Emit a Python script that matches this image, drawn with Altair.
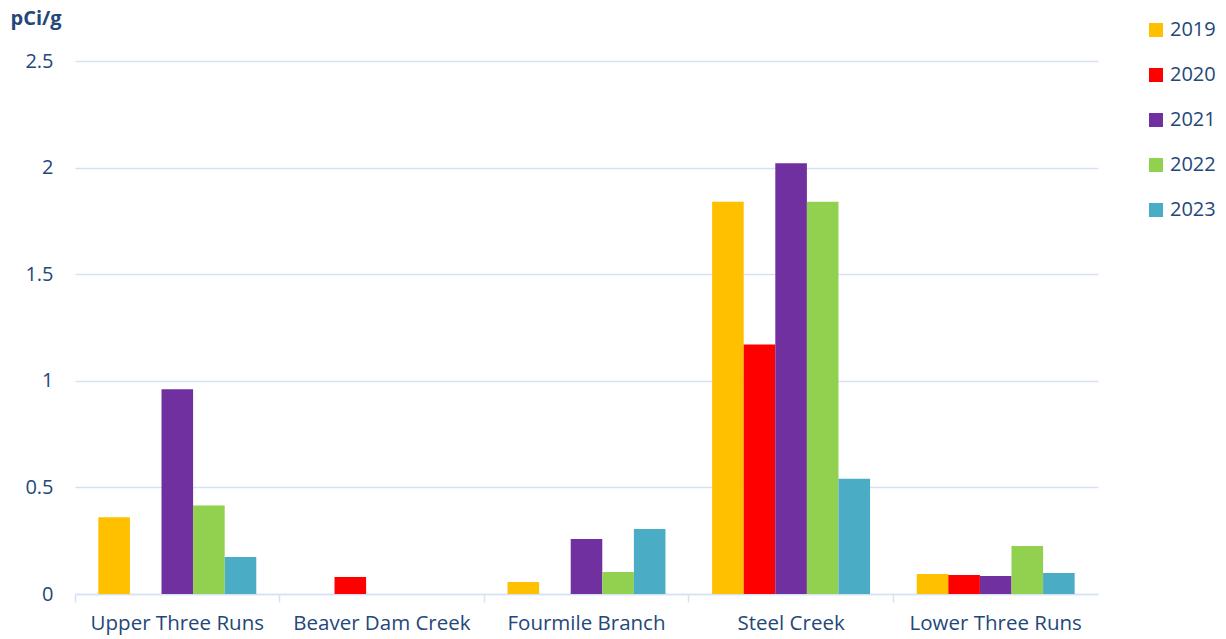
import altair as alt
import pandas as pd

sites = ["Upper Three Runs", "Beaver Dam Creek", "Fourmile Branch", "Steel Creek", "Lower Three Runs"]
years = ["2019", "2020", "2021", "2022", "2023"]
colors = ["#FFC000", "#FF0000", "#7030A0", "#92D050", "#4BACC6"]

v2019 = [0.36, None, 0.056, 1.84, 0.094]
v2020 = [None, 0.08, None, 1.17, 0.089]
v2021 = [0.96, None, 0.258, 2.02, 0.084]
v2022 = [0.415, None, 0.103, 1.84, 0.225]
v2023 = [0.174, None, 0.305, 0.54, 0.098]
y_ticks = [0, 0.5, 1, 1.5, 2, 2.5]

series = {"2019": v2019, "2020": v2020, "2021": v2021, "2022": v2022, "2023": v2023}
rows = []
for y in years:
    for s, v in zip(sites, series[y]):
        if v is not None:
            rows.append({"site": s, "year": y, "value": v})
df = pd.DataFrame(rows)

FONT = "Open Sans"
TXT = "#24477A"
GRID = "#D6E1F1"

chart = alt.Chart(df).mark_bar().encode(
    x=alt.X("site:N", sort=sites,
            scale=alt.Scale(domain=sites, paddingInner=0.228, paddingOuter=0.114),
            axis=alt.Axis(title=None, labelAngle=0, labelFontSize=20.5, labelColor=TXT,
                          labelFont=FONT, labelPadding=11, bandPosition=-0.1476,
                          ticks=True, tickSize=8, tickColor=GRID, tickWidth=1.5,
                          domainColor=GRID, domainWidth=1.5, grid=False)),
    xOffset=alt.XOffset("year:N", scale=alt.Scale(domain=years, paddingInner=0, paddingOuter=0)),
    y=alt.Y("value:Q", scale=alt.Scale(domain=[0, 2.5], nice=False),
            axis=alt.Axis(values=y_ticks, format="~g",
                          title="pCi/g", titleAngle=0, titleFont=FONT, titleFontSize=20,
                          titleFontWeight="bold", titleColor=TXT, titleAlign="left",
                          titleBaseline="alphabetic", titleX=-65, titleY=-37,
                          labelFontSize=20, labelColor=TXT, labelFont=FONT, labelPadding=22,
                          ticks=False, domain=False, grid=True, gridColor=GRID, gridWidth=1.5)),
    color=alt.Color("year:N", scale=alt.Scale(domain=years, range=colors),
                    legend=alt.Legend(title=None, orient="none", legendX=1071, legendY=-41,
                                      symbolType="square", symbolSize=196, symbolStrokeWidth=0,
                                      labelFontSize=20, labelColor=TXT, labelFont=FONT,
                                      rowPadding=25, padding=0, labelOffset=4)),
).properties(
    width=1023, height=533,
    autosize=alt.AutoSizeParams(type="none"),
    padding={"left": 67, "top": 53, "right": 120, "bottom": 50},
).configure_view(stroke=None)

chart.save("out.html", embed_options={"renderer": "svg", "actions": False})
